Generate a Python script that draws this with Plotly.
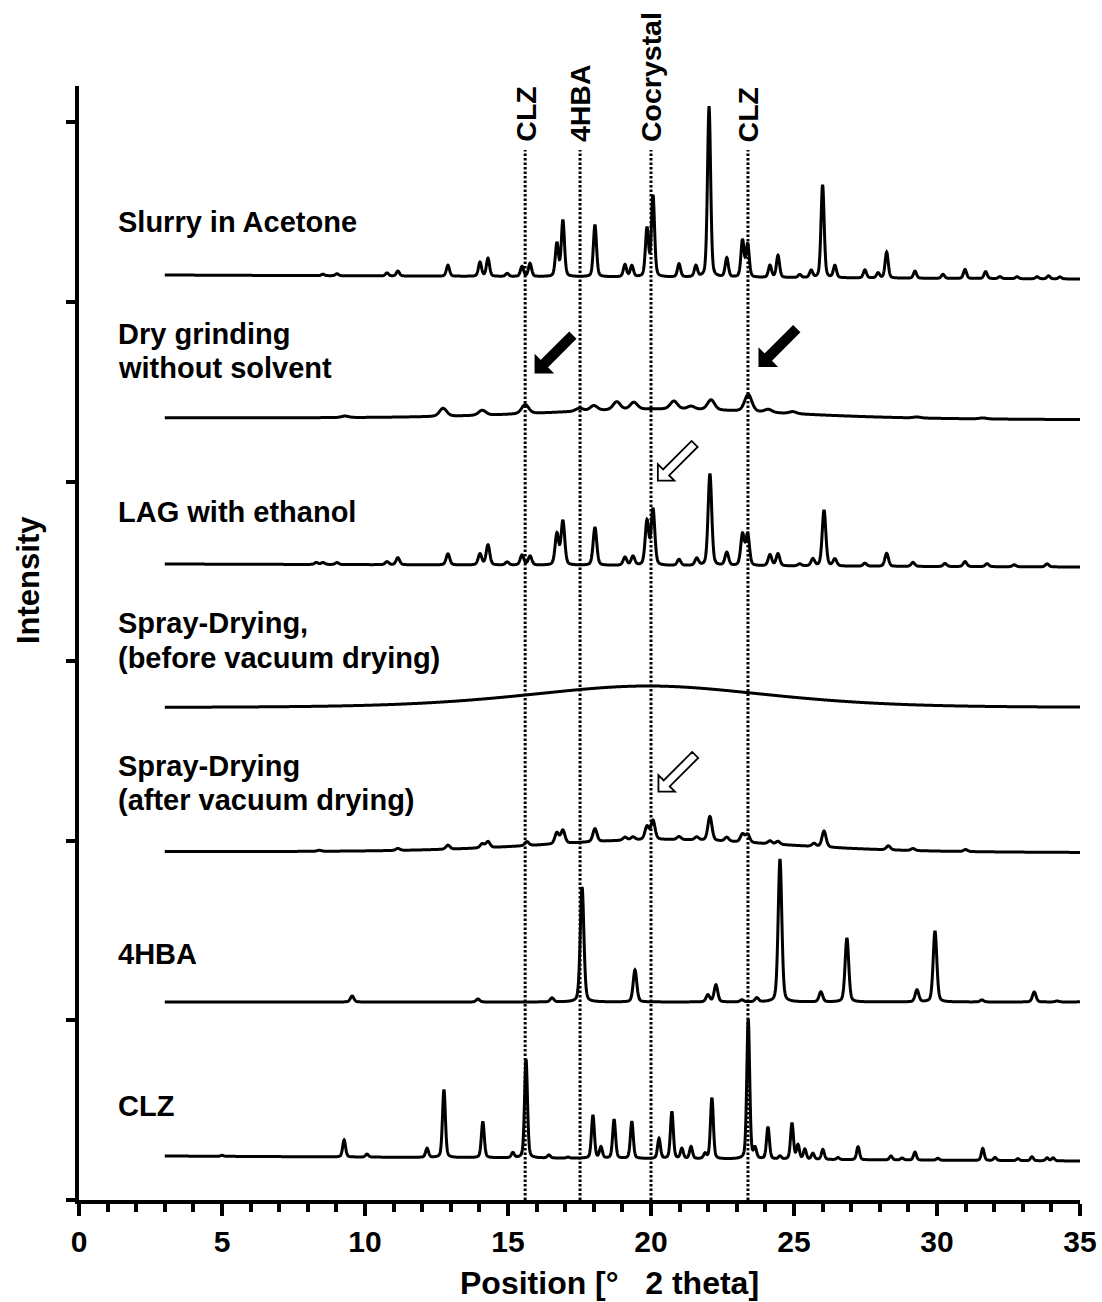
import numpy as np
import plotly.graph_objects as go

FONT = "Liberation Sans, Arial, sans-serif"

# 2-theta scan range of the measured patterns
X_START, X_END = 3.0, 35.0

# ---------------------------------------------------------------
# Stacked XRD patterns (intensity in arbitrary units, offset stack)
# base = baseline level at 3° and at 35°
# halo = broad amorphous contribution: (centre, height, fwhm)
# ---------------------------------------------------------------
slurry_base = (925, 921)
slurry_pos = [8.53, 9.02, 10.77, 11.15, 12.9, 14.02, 14.3, 14.97, 15.49, 15.77,
              16.71, 16.92, 18.04, 19.09, 19.33, 19.86, 20.07, 20.98, 21.57, 22.03,
              22.65, 23.2, 23.38, 24.16, 24.44, 25.2, 25.6, 26.0, 26.43, 27.48,
              27.94, 28.24, 29.23, 30.21, 30.98, 31.7, 32.2, 32.8, 33.5, 33.9, 34.3]
slurry_int = [1.5, 2, 3, 5, 11, 14, 18, 3, 10, 13,
              33, 56, 52, 12, 11, 48, 81, 13, 11, 171,
              19, 37, 33, 12, 22, 3, 7, 93, 12, 8,
              5, 26, 7, 4, 9, 7, 2, 2, 2, 3, 2]

dry_base = (782, 780)
dry_halo = (20.5, 10, 10.0)
dry_pos = [9.3, 12.73, 14.1, 15.6, 17.5, 18.0, 18.8, 19.4, 20.8, 21.4,
           22.1, 23.4, 24.1, 24.96, 29.3, 31.6]
dry_int = [1.5, 8, 5, 9, 3, 5, 8, 7, 8, 3,
           10, 17, 3, 2, 1, 1]

lag_base = (636, 633)
lag_pos = [8.3, 8.53, 9.02, 10.77, 11.15, 12.9, 14.02, 14.3, 14.97, 15.49,
           15.77, 16.71, 16.92, 18.04, 19.09, 19.37, 19.86, 20.07, 20.98, 21.6,
           22.06, 22.65, 23.2, 23.38, 24.16, 24.44, 25.2, 25.66, 26.05, 26.43,
           27.48, 28.24, 29.16, 30.28, 30.98, 31.75, 32.7, 33.85]
lag_int = [2, 2, 2, 3, 7, 11, 11, 20, 3, 10,
           9, 31, 44, 38, 8, 9, 44, 56, 6, 7,
           92, 13, 31, 31, 11, 12, 2, 7, 56, 7,
           3, 13, 4, 3, 5, 3, 2, 3]

sd_before_base = (492, 492)
sd_before_halo = (19.9, 22, 10.0)

sd_after_base = (348, 347)
sd_after_halo = (20.5, 13, 10.0)
sd_after_pos = [8.4, 11.15, 12.9, 14.1, 14.3, 15.66, 16.71, 16.92, 18.04, 19.09,
                19.37, 19.86, 20.07, 20.98, 21.6, 22.06, 22.65, 23.2, 23.38, 24.16,
                24.44, 25.7, 26.05, 28.3, 29.16, 31.0]
sd_after_int = [1, 2, 4, 4, 6, 4, 11, 13, 13, 3,
                3, 13, 19, 3, 3, 24, 4, 8, 8, 3,
                3, 3, 16, 4, 2, 2]

hba_base = (198, 198)
hba_pos = [9.55, 13.95, 16.54, 17.59, 19.44, 21.99, 22.27, 23.18, 23.7, 24.51,
           25.94, 26.85, 29.3, 29.93, 31.57, 33.4, 34.2, 35.2]
hba_int = [6, 3, 4, 115, 32, 7, 17, 2, 4, 143,
           10, 64, 12, 71, 2, 10, 1, 6]

clz_base = (44, 39)
clz_pos = [5.0, 9.27, 10.07, 12.17, 12.76, 14.12, 15.17, 15.63, 16.43, 17.1,
           17.97, 18.25, 18.71, 19.33, 20.28, 20.73, 21.08, 21.4, 21.89, 22.13,
           23.4, 23.64, 24.09, 24.51, 24.93, 25.14, 25.38, 25.66, 26.01, 26.54,
           27.24, 28.39, 28.78, 29.23, 30.03, 31.6, 32.03, 32.83, 33.32, 33.85, 34.06]
clz_int = [1, 17, 3, 9, 68, 36, 5, 99, 3, 1,
           43, 11, 39, 37, 20, 47, 10, 12, 5, 61,
           140, 10, 32, 3, 36, 14, 10, 6, 10, 2,
           13, 4, 2, 8, 2, 12, 3, 2, 4, 3, 3]

# Reference reflections marked by dotted lines
ref_lines = [15.6, 17.52, 20.0, 23.39]
ref_labels = ["CLZ", "4HBA", "Cocrystal", "CLZ"]

# Sample names: (text, x, y)
sample_labels = [
    ("Slurry in Acetone", 1.3, 978),
    ("Dry grinding", 1.3, 866),
    ("without solvent", 1.3, 832),
    ("LAG with ethanol", 1.3, 688),
    ("Spray-Drying,", 1.3, 577),
    ("(before vacuum drying)", 1.3, 542),
    ("Spray-Drying", 1.3, 434),
    ("(after vacuum drying)", 1.3, 400),
    ("4HBA", 1.3, 246),
    ("CLZ", 1.3, 94),
]

# Arrow tips (x in °2θ, y in a.u.) and fill style
arrows = [
    (15.96, 827.5, "black"),
    (23.79, 834.0, "black"),
    (20.24, 719.3, "white"),
    (20.26, 408.3, "white"),
]

Y_MAX = 1114
Y_TICK = 179.6

two_theta = np.round(np.arange(X_START, X_END + 1e-9, 0.01), 3)


def peak(center, fwhm, eta):
    d = (two_theta - center) / fwhm
    return (1 - eta) * np.exp(-4 * np.log(2) * d * d) + eta / (1 + 4 * d * d)


def pattern(base, pos=(), inten=(), fwhm=0.13, eta=0.3, halo=None):
    y = base[0] + (base[1] - base[0]) * (two_theta - X_START) / (X_END - X_START)
    if halo is not None:
        y = y + halo[1] * peak(halo[0], halo[2], 0.4)
    for c, h in zip(pos, inten):
        y = y + h * peak(c, fwhm, eta)
    return y


curves = [
    pattern(slurry_base, slurry_pos, slurry_int, fwhm=0.13),
    pattern(dry_base, dry_pos, dry_int, fwhm=0.3, halo=dry_halo),
    pattern(lag_base, lag_pos, lag_int, fwhm=0.15),
    pattern(sd_before_base, halo=sd_before_halo),
    pattern(sd_after_base, sd_after_pos, sd_after_int, fwhm=0.17, halo=sd_after_halo),
    pattern(hba_base, hba_pos, hba_int, fwhm=0.15),
    pattern(clz_base, clz_pos, clz_int, fwhm=0.12),
]

fig = go.Figure()
for yv in curves:
    fig.add_trace(go.Scatter(x=two_theta, y=yv, mode="lines",
                             line=dict(color="black", width=3, simplify=False),
                             showlegend=False, hoverinfo="skip"))

shapes = []
for xv in ref_lines:
    shapes.append(dict(type="line", xref="x", yref="y", x0=xv, x1=xv, y0=0, y1=1050,
                       line=dict(color="black", width=3, dash="2.5px,2px"), layer="above"))


def arrow_path(head=16.5, shaft=8.5, length=52.0):
    # block arrow pointing down-left, tip at the anchor, pixel units (y up)
    s = 1 / np.sqrt(2)
    u = np.array([s, s])
    v = np.array([-s, s])
    hb = head * s
    pts = [0 * u, hb * u + hb * v, hb * u + shaft / 2 * v, length * u + shaft / 2 * v,
           length * u - shaft / 2 * v, hb * u - shaft / 2 * v, hb * u - hb * v]
    return "M " + " L ".join(f"{p[0]:.2f},{p[1]:.2f}" for p in pts) + " Z"


for ax, ay, fill in arrows:
    shapes.append(dict(type="path", xref="x", yref="y", xsizemode="pixel", ysizemode="pixel",
                       xanchor=ax, yanchor=ay, path=arrow_path(),
                       fillcolor=fill, line=dict(color="black", width=1.8), layer="above"))

annotations = []
for text, xv, yv in sample_labels:
    annotations.append(dict(text=text, x=xv, y=yv, xref="x", yref="y", xanchor="left",
                            yanchor="middle", showarrow=False,
                            font=dict(family=FONT, size=29, color="black", weight="bold")))

for xv, text in zip(ref_lines, ref_labels):
    annotations.append(dict(text=text, x=xv, y=1056, xref="x", yref="y", xanchor="center",
                            yanchor="bottom", textangle=-90, showarrow=False,
                            font=dict(family=FONT, size=28.5, color="black", weight="bold")))

annotations.append(dict(text="Position [°\u00a0\u00a0 2 theta]", x=(609 - 79) / 1001, y=-83 / 1114,
                        xref="paper", yref="paper", xanchor="center", yanchor="middle",
                        showarrow=False,
                        font=dict(family=FONT, size=32, color="black", weight="bold")))
annotations.append(dict(text="Intensity", x=-51 / 1001, y=620 / 1114, xref="paper", yref="paper",
                        xanchor="center", yanchor="middle", textangle=-90, showarrow=False,
                        font=dict(family=FONT, size=31, color="black", weight="bold")))

fig.update_layout(
    width=1102, height=1302,
    margin=dict(l=79, r=22, t=86, b=102),
    paper_bgcolor="white", plot_bgcolor="white",
    shapes=shapes, annotations=annotations,
    xaxis=dict(range=[0, 35], tickvals=list(range(0, 36, 5)), showline=True, linewidth=3.5,
               linecolor="black", ticks="outside", ticklen=12, tickwidth=3.5, tickcolor="black",
               showgrid=False, zeroline=False, automargin=False, ticklabeloverflow="allow",
               tickfont=dict(family=FONT, size=30, color="black", weight="bold"),
               minor=dict(dtick=1, ticks="outside", ticklen=8, tickwidth=3.5, tickcolor="black",
                          showgrid=False)),
    yaxis=dict(range=[0, Y_MAX], tickvals=[Y_TICK * k for k in range(7)], showticklabels=False,
               showline=True, linewidth=3.5, linecolor="black", ticks="outside", ticklen=9,
               tickwidth=3.5, tickcolor="black", showgrid=False, zeroline=False, automargin=False),
)

fig.write_html("out.html")
